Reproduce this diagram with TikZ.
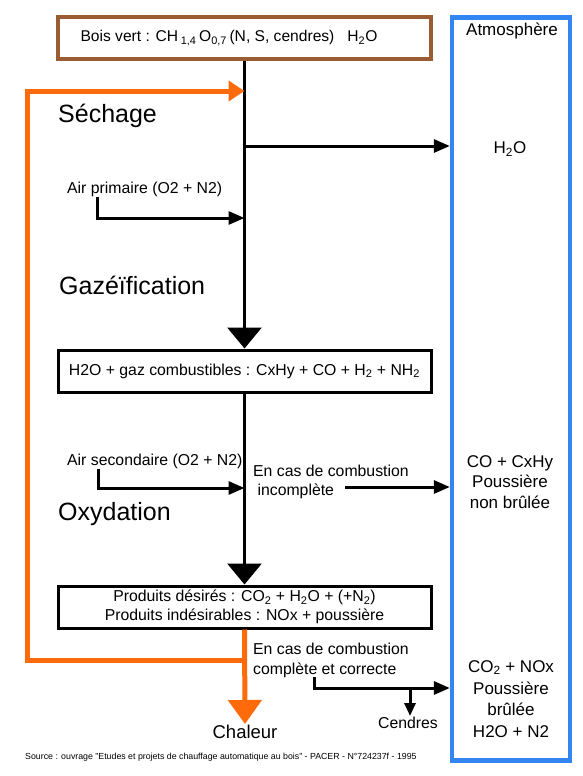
\documentclass[tikz,border=0pt]{standalone}
\usepackage{fontspec}
\setmainfont{Liberation Sans}
\usetikzlibrary{arrows.meta,positioning}

\definecolor{boisbrun}{RGB}{153,92,51}
\definecolor{feuorange}{RGB}{255,106,10}
\definecolor{cielbleu}{RGB}{51,133,242}

\newcommand{\txt}{\fontsize{15.8}{19}\selectfont}
\newcommand{\atmtxt}{\fontsize{17}{20.5}\selectfont}
\newcommand{\titre}{\fontsize{25}{28}\selectfont}
\newcommand{\ind}[1]{\textsubscript{#1}}

\tikzset{
  etape/.style={draw, line width=3pt, minimum width=373pt, minimum height=42pt,
    inner sep=0pt, align=center, font=\txt},
  texte/.style={inner sep=1pt, font=\txt, align=left},
  atmotexte/.style={inner sep=1pt, font=\atmtxt, align=center},
  phase/.style={inner sep=0pt, anchor=west, font=\titre},
  ligne/.style={line width=3pt},
  grosse/.style={-{Triangle[length=21pt,width=34pt]}},
  petite/.style={-{Triangle[length=16pt,width=13pt]}},
  chaud/.style={draw=feuorange, line width=5pt}
}

\begin{document}
\begin{tikzpicture}[x=1pt,y=-1pt]
  \useasboundingbox (0,0) rectangle (582,776);

  % boites
  \node[etape, draw=boisbrun, line width=3.8pt, font=\fontsize{15.6}{19}\selectfont] (bois) at (244.5,38)
    {Bois vert : CH\,\ind{1,4}\,O\ind{0,7}\,(N, S, cendres)\ \ \ H\ind{2}O\hspace*{31pt}};
  \node[etape] (gaz) at (244.5,371)
    {H2O + gaz combustibles : CxHy + CO + H\ind{2} + NH\ind{2}};
  \node[etape] (produits) at (244.5,607)
    {Produits désirés : CO\ind{2} + H\ind{2}O + (+N\ind{2})\\
     Produits indésirables : NOx + poussière};
  \node[draw=cielbleu, line width=4.3pt, minimum width=118pt, minimum height=743pt,
    inner sep=0pt] (atmo) at (511,389) {};

  % textes
  \node[atmotexte] (atmotitre) at (512,31) {Atmosphère};
  \node[atmotexte] (eau) at (510,149) {H\ind{2}O};
  \node[phase] (sechage) at (58,116) {Séchage};
  \node[texte, anchor=west] (airprim) at (66,189) {Air primaire (O2 + N2)};
  \node[phase] (gazeif) at (59,285) {Gazéïfication};
  \node[texte, anchor=west] (airsec) at (66,461) {Air secondaire (O2 + N2)};
  \node[texte, anchor=north west] (incomp) at (252,464) {En cas de combustion\\\ incomplète};
  \node[atmotexte] (imbrule) at (510,482) {CO + CxHy\\Poussière\\non brûlée};
  \node[phase] (oxyd) at (58,514) {Oxydation};
  \node[texte, anchor=north west, font=\fontsize{15.8}{20}\selectfont] (complete) at (252,642)
    {En cas de combustion\\complète et correcte};
  \node[atmotexte, font=\fontsize{17}{21.7}\selectfont] (brule) at (511,699)
    {CO\ind{2} + NOx\\Poussière\\brûlée\\H2O + N2};
  \node[texte] (cendres) at (408,723) {Cendres};
  \node[texte, font=\fontsize{18.5}{22}\selectfont] (chaleur) at (245,732) {Chaleur};
  \node[inner sep=0pt, anchor=west, font=\fontsize{8.8}{10}\selectfont] (source) at (25,757)
    {Source : ouvrage "Etudes et projets de chauffage automatique au bois" - PACER - N°724237f - 1995};

  % points de passage
  \coordinate (sortieeau) at (244.5,146);
  \coordinate (entreeprim) at (244.5,218);
  \coordinate (entreesec) at (244.5,488);
  \coordinate (departincomp) at (345,487);
  \coordinate (retour) at (244.5,660);
  \coordinate (coingauche) at (27,91);
  \coordinate (entreechaleur) at (244.5,91);
  \coordinate (fourche) at (410,688);

  % flux principal
  \draw[ligne, grosse] (bois.south) -- (gaz.north);
  \draw[ligne, grosse] (gaz.south) -- (produits.north);
  \draw[ligne, petite] (sortieeau) -- (sortieeau -| atmo.west);
  \draw[ligne, petite] ([xshift=31pt,yshift=1pt]airprim.south west) |- (entreeprim);
  \draw[ligne, petite] ([xshift=32pt,yshift=1pt]airsec.south west) |- (entreesec);
  \draw[ligne, petite] (departincomp) -- (departincomp -| atmo.west);
  \draw[ligne, petite] ([xshift=62pt,yshift=2pt]complete.south west) |- (fourche -| atmo.west);
  \draw[ligne, -{Triangle[length=13pt,width=11pt]}] (fourche) -- (fourche |- cendres.north);

  % chaleur
  \draw[chaud, -{Triangle[length=24pt,width=33pt]}] (produits.south) -- (chaleur.north);
  \draw[chaud, -{Triangle[length=16pt,width=20pt]}] (retour) -| (coingauche) -- (entreechaleur);
\end{tikzpicture}
\end{document}
